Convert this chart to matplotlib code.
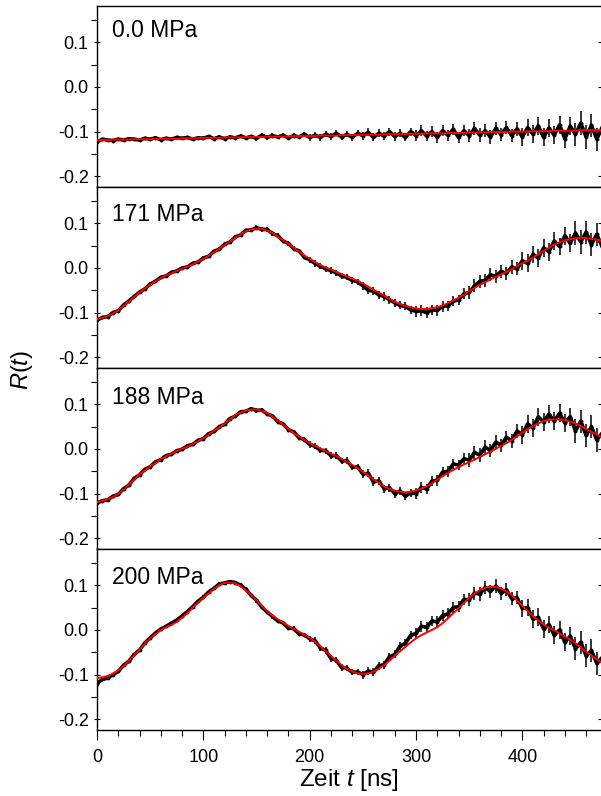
import matplotlib.pyplot as plt
import numpy as np

# --- Style Settings ---
plt.rcParams['font.family'] = ['Liberation Sans', 'DejaVu Sans']
plt.rcParams['mathtext.fontset'] = 'custom'
plt.rcParams['mathtext.rm'] = 'Liberation Sans'
plt.rcParams['mathtext.it'] = 'Liberation Sans:italic'

COLORS = {
    'data': '#000000',
    'fit': '#ff0000',
    'text': '#000000',
}

# time axis of the measured spectra [ns], one point every 5 ns
t_data = np.arange(0, 480, 5)
# time grid of the fitted curves [ns]
t_fit = np.arange(0, 480, 5)

pressures = ['0.0 MPa', '171 MPa', '188 MPa', '200 MPa']

# error bar half widths, one value per 50 ns bin
err_by_50ns = [0.003, 0.003, 0.004, 0.005, 0.007, 0.009, 0.012, 0.015, 0.020, 0.026]

# --- measured R(t) ---
data_000 = [
    -0.123, -0.117, -0.119, -0.120, -0.117, -0.119, -0.116, -0.117, -0.119, -0.115,
    -0.117, -0.114, -0.118, -0.115, -0.117, -0.113, -0.115, -0.113, -0.117, -0.114,
    -0.115, -0.111, -0.116, -0.112, -0.116, -0.112, -0.114, -0.110, -0.114, -0.111,
    -0.115, -0.108, -0.113, -0.109, -0.112, -0.108, -0.114, -0.109, -0.112, -0.106,
    -0.113, -0.108, -0.113, -0.106, -0.111, -0.104, -0.112, -0.106, -0.113, -0.104,
    -0.109, -0.102, -0.113, -0.104, -0.110, -0.100, -0.111, -0.104, -0.113, -0.100,
    -0.109, -0.098, -0.110, -0.100, -0.113, -0.098, -0.108, -0.095, -0.113, -0.098,
    -0.109, -0.093, -0.108, -0.098, -0.112, -0.093, -0.107, -0.091, -0.109, -0.094,
    -0.112, -0.091, -0.106, -0.087, -0.113, -0.092, -0.108, -0.085, -0.116, -0.088,
    -0.106, -0.081, -0.112, -0.086, -0.117, -0.091,
]
data_171 = [
    -0.117, -0.111, -0.109, -0.100, -0.096, -0.083, -0.074, -0.064, -0.054, -0.047,
    -0.036, -0.030, -0.021, -0.018, -0.010, -0.007, 0.000, 0.002, 0.010, 0.013,
    0.022, 0.026, 0.037, 0.042, 0.053, 0.058, 0.069, 0.074, 0.084, 0.085,
    0.090, 0.086, 0.086, 0.077, 0.072, 0.060, 0.055, 0.043, 0.038, 0.024,
    0.018, 0.010, 0.004, -0.002, -0.006, -0.011, -0.018, -0.021, -0.028, -0.031,
    -0.040, -0.050, -0.052, -0.060, -0.064, -0.071, -0.078, -0.084, -0.086, -0.094,
    -0.097, -0.096, -0.100, -0.094, -0.095, -0.086, -0.085, -0.074, -0.072, -0.058,
    -0.055, -0.040, -0.030, -0.028, -0.015, -0.019, -0.008, -0.012, 0.002, -0.002,
    0.016, 0.010, 0.030, 0.022, 0.045, 0.036, 0.060, 0.048, 0.072, 0.055,
    0.078, 0.058, 0.080, 0.052, 0.075, 0.048,
]
data_188 = [
    -0.121, -0.116, -0.114, -0.106, -0.102, -0.089, -0.081, -0.066, -0.058, -0.046,
    -0.040, -0.029, -0.024, -0.015, -0.012, -0.004, -0.001, 0.007, 0.010, 0.019,
    0.023, 0.034, 0.039, 0.050, 0.055, 0.068, 0.073, 0.083, 0.084, 0.090,
    0.086, 0.087, 0.078, 0.074, 0.061, 0.056, 0.043, 0.038, 0.025, 0.021,
    0.010, 0.006, -0.003, -0.004, -0.015, -0.015, -0.027, -0.026, -0.041, -0.040,
    -0.056, -0.055, -0.073, -0.072, -0.089, -0.087, -0.100, -0.094, -0.106, -0.098,
    -0.100, -0.086, -0.090, -0.072, -0.070, -0.052, -0.050, -0.034, -0.036, -0.022,
    -0.025, -0.008, -0.014, 0.004, -0.004, 0.015, 0.008, 0.026, 0.018, 0.040,
    0.032, 0.056, 0.047, 0.072, 0.060, 0.078, 0.062, 0.080, 0.058, 0.072,
    0.040, 0.062, 0.030, 0.050, 0.020, 0.035,
]
data_200 = [
    -0.120, -0.111, -0.108, -0.100, -0.093, -0.079, -0.070, -0.055, -0.045, -0.029,
    -0.018, -0.007, 0.002, 0.008, 0.015, 0.022, 0.031, 0.041, 0.052, 0.064,
    0.073, 0.085, 0.093, 0.103, 0.105, 0.108, 0.106, 0.100, 0.091, 0.077,
    0.066, 0.051, 0.040, 0.030, 0.020, 0.016, 0.004, 0.003, -0.009, -0.011,
    -0.020, -0.024, -0.040, -0.046, -0.064, -0.068, -0.084, -0.086, -0.095, -0.094,
    -0.100, -0.092, -0.095, -0.080, -0.078, -0.060, -0.055, -0.036, -0.030, -0.012,
    -0.008, 0.008, 0.006, 0.020, 0.018, 0.032, 0.036, 0.050, 0.052, 0.068,
    0.068, 0.082, 0.080, 0.095, 0.086, 0.098, 0.082, 0.090, 0.070, 0.072,
    0.048, 0.050, 0.024, 0.028, 0.002, 0.012, -0.012, 0.000, -0.028, -0.014,
    -0.042, -0.028, -0.058, -0.046, -0.075, -0.062,
]

# --- fitted R(t) ---
fit_000 = [
    -0.119, -0.119, -0.119, -0.118, -0.118, -0.118, -0.118, -0.117, -0.117, -0.117,
    -0.117, -0.116, -0.116, -0.116, -0.116, -0.116, -0.115, -0.115, -0.115, -0.115,
    -0.114, -0.114, -0.114, -0.114, -0.113, -0.113, -0.113, -0.113, -0.112, -0.112,
    -0.112, -0.112, -0.111, -0.111, -0.111, -0.111, -0.111, -0.110, -0.110, -0.110,
    -0.110, -0.110, -0.109, -0.109, -0.109, -0.109, -0.108, -0.108, -0.108, -0.108,
    -0.107, -0.107, -0.107, -0.107, -0.106, -0.106, -0.106, -0.106, -0.105, -0.105,
    -0.105, -0.105, -0.104, -0.104, -0.104, -0.104, -0.103, -0.103, -0.103, -0.103,
    -0.102, -0.102, -0.102, -0.102, -0.101, -0.101, -0.101, -0.101, -0.100, -0.100,
    -0.100, -0.100, -0.099, -0.099, -0.099, -0.099, -0.098, -0.098, -0.098, -0.098,
    -0.098, -0.097, -0.097, -0.097, -0.097, -0.097,
]
fit_171 = [
    -0.1145, -0.112, -0.108, -0.102, -0.095, -0.085, -0.075, -0.065, -0.055, -0.046,
    -0.038, -0.030, -0.023, -0.017, -0.012, -0.007, -0.002, 0.003, 0.008, 0.014,
    0.020, 0.027, 0.035, 0.043, 0.051, 0.059, 0.067, 0.075, 0.082, 0.086,
    0.088, 0.087, 0.084, 0.078, 0.070, 0.062, 0.054, 0.045, 0.037, 0.028,
    0.020, 0.013, 0.006, 0.001, -0.004, -0.009, -0.014, -0.019, -0.024, -0.029,
    -0.035, -0.042, -0.049, -0.055, -0.062, -0.069, -0.076, -0.081, -0.085, -0.088,
    -0.091, -0.092, -0.092, -0.090, -0.088, -0.084, -0.079, -0.073, -0.067, -0.060,
    -0.052, -0.045, -0.038, -0.032, -0.026, -0.020, -0.015, -0.009, -0.003, 0.004,
    0.010, 0.016, 0.023, 0.030, 0.038, 0.045, 0.052, 0.057, 0.062, 0.064,
    0.066, 0.067, 0.067, 0.065, 0.063, 0.061,
]
fit_188 = [
    -0.119, -0.117, -0.113, -0.108, -0.101, -0.091, -0.080, -0.068, -0.057, -0.048,
    -0.039, -0.031, -0.023, -0.017, -0.011, -0.005, 0.000, 0.005, 0.011, 0.017,
    0.024, 0.032, 0.040, 0.048, 0.057, 0.066, 0.075, 0.081, 0.086, 0.088,
    0.088, 0.085, 0.080, 0.072, 0.063, 0.054, 0.045, 0.036, 0.028, 0.020,
    0.013, 0.007, 0.001, -0.005, -0.011, -0.016, -0.022, -0.029, -0.036, -0.043,
    -0.051, -0.059, -0.068, -0.076, -0.084, -0.089, -0.093, -0.096, -0.097, -0.096,
    -0.093, -0.089, -0.084, -0.077, -0.069, -0.061, -0.054, -0.047, -0.041, -0.035,
    -0.030, -0.024, -0.018, -0.012, -0.006, 0.000, 0.007, 0.013, 0.020, 0.028,
    0.036, 0.044, 0.051, 0.057, 0.062, 0.065, 0.066, 0.066, 0.065, 0.061,
    0.057, 0.051, 0.045, 0.038, 0.032, 0.026,
]
fit_200 = [
    -0.108, -0.106, -0.103, -0.098, -0.091, -0.081, -0.069, -0.057, -0.044, -0.031,
    -0.019, -0.009, 0.000, 0.006, 0.011, 0.018, 0.027, 0.038, 0.050, 0.061,
    0.072, 0.082, 0.092, 0.100, 0.105, 0.106, 0.104, 0.098, 0.089, 0.078,
    0.066, 0.054, 0.042, 0.032, 0.024, 0.016, 0.009, 0.002, -0.004, -0.011,
    -0.018, -0.026, -0.036, -0.047, -0.058, -0.069, -0.079, -0.087, -0.093, -0.097,
    -0.098, -0.097, -0.094, -0.087, -0.079, -0.069, -0.058, -0.048, -0.038, -0.028,
    -0.019, -0.012, -0.006, 0.000, 0.006, 0.015, 0.026, 0.037, 0.048, 0.060,
    0.072, 0.081, 0.089, 0.094, 0.097, 0.096, 0.093, 0.086, 0.078, 0.066,
    0.054, 0.042, 0.031, 0.021, 0.012, 0.005, -0.001, -0.008, -0.015, -0.022,
    -0.030, -0.039, -0.049, -0.057, -0.066, -0.074,
]

panel_data = [data_000, data_171, data_188, data_200]
panel_fits = [fit_000, fit_171, fit_188, fit_200]
label_y = [0.83, 0.81, 0.80, 0.805]


def style_axis(ax, is_bottom):
    ax.set_xlim(0, 474)
    ax.set_ylim(-0.224, 0.181)
    ax.set_xticks([0, 100, 200, 300, 400])
    ax.set_xticks(np.arange(0, 475, 20), minor=True)
    ax.set_yticks([-0.2, -0.1, 0.0, 0.1])
    ax.set_yticks([-0.15, -0.05, 0.05, 0.15], minor=True)
    ax.set_yticklabels(['-0.2', '-0.1', '0.0', '0.1'])
    ax.spines['right'].set_visible(False)
    for side in ['left', 'bottom', 'top']:
        ax.spines[side].set_linewidth(1.0)
    ax.tick_params(axis='both', which='major', direction='out', length=7.5, width=0.8,
                   labelsize=13, pad=4, top=False, right=False)
    ax.tick_params(axis='x', which='major', pad=6)
    ax.tick_params(axis='both', which='minor', direction='out', length=4, width=0.8,
                   top=False, right=False)
    # short marks on the right border
    ax.tick_params(axis='y', which='major', right=True, direction='inout', length=4)
    ax.tick_params(axis='y', which='major', left=True)
    ax.tick_params(axis='y', which='minor', left=True, right=False)
    if not is_bottom:
        ax.tick_params(axis='x', labelbottom=False)


def draw_panel(ax, data, fit, label, ly):
    data = np.asarray(data)
    yerr = np.array([err_by_50ns[min(int(t // 50), 9)] for t in t_data])
    ax.plot(t_data, data, color=COLORS['data'], lw=2.6, zorder=2)
    ax.errorbar(t_data, data, yerr=yerr, fmt='o', ms=1.8, color=COLORS['data'],
                ecolor=COLORS['data'], elinewidth=1.1, capsize=0, zorder=3)
    ax.plot(t_fit, fit, color=COLORS['fit'], lw=1.4, zorder=4)
    ax.text(0.03, ly, label, transform=ax.transAxes, fontsize=16.5,
            ha='left', va='baseline', color=COLORS['text'])


fig = plt.figure(figsize=(6.01, 7.96), dpi=100)
gs = fig.add_gridspec(4, 1, left=97 / 601, right=1.0,
                      top=1 - 6 / 796, bottom=1 - 730 / 796, hspace=0)
axes = [fig.add_subplot(gs[i, 0]) for i in range(4)]

for i, ax in enumerate(axes):
    draw_panel(ax, panel_data[i], panel_fits[i], pressures[i], label_y[i])
    style_axis(ax, is_bottom=(i == 3))

axes[3].set_xlabel('Zeit $t$ [ns]', fontsize=17.5, labelpad=1)
fig.text(0.037, 0.535, '$R$($t$)', rotation=90, fontsize=17, ha='center', va='center')

fig.savefig('out.png', dpi=100)
